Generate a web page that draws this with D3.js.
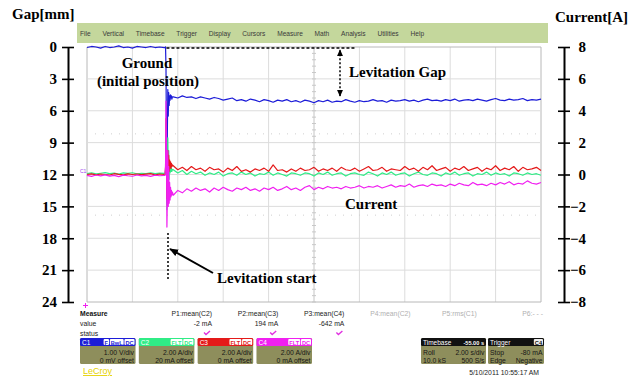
<!DOCTYPE html>
<html>
<head>
<meta charset="utf-8">
<script src="https://cdn.jsdelivr.net/npm/d3@7"></script>
<style>
body { margin: 0; background: #fff; }
svg { display: block; }
.serif { font-family: 'Liberation Serif', 'Times New Roman', serif; font-weight: bold; font-size: 15px; fill: #000; }
.scope { font-family: 'Liberation Sans', Arial, sans-serif; }
</style>
</head>
<body>
<div id="chart"></div>
<script>
var W = 643
var H = 376

// ====== axis ticks
var gapTicks = [0, 3, 6, 9, 12, 15, 18, 21, 24]
var currentTicks = [8, 6, 4, 2, 0, -2, -4, -6, -8]
var menuItems = ['File', 'Vertical', 'Timebase', 'Trigger', 'Display', 'Cursors', 'Measure', 'Math', 'Analysis', 'Utilities', 'Help']

// ====== traces (C1 = gap [mm], C2/C3/C4 = current [A]), sampled every 0.2 s
var sampleStep = 0.2
var preStart = 0
var postStart = 3.8

var preGap = [0.05, -0.05, 0.0, 0.1, -0.05, 0.05, 0.0, -0.1, 0.05, 0.0, 0.1, -0.05, 0.0, 0.05, -0.05, 0.05, 0.0, 0.05]
var preC2 = [0.06, 0.1, 0.04, 0.08, 0.12, 0.05, 0.09, 0.03, 0.1, 0.07, 0.11, 0.04, 0.08, 0.06, 0.1, 0.05, 0.09, 0.07]
var preC3 = [0.0, 0.04, -0.02, 0.03, 0.0, -0.03, 0.05, 0.01, -0.02, 0.04, 0.0, 0.03, -0.01, 0.02, 0.05, -0.02, 0.03, 0.0]
var preC4 = [-0.05, -0.12, -0.03, -0.09, -0.02, -0.1, -0.06, -0.13, -0.04, -0.08, -0.11, -0.03, -0.09, -0.05, -0.12, -0.04, -0.08, -0.06]

// the levitation start transient
var spikeTime = [3.44, 3.46, 3.48, 3.50, 3.52, 3.54, 3.56, 3.58, 3.60, 3.62, 3.64, 3.66, 3.68, 3.70, 3.72, 3.74, 3.76]
var spikeGap = [0.05, 0.0, 2.0, 9.0, 14.8, 8.0, 4.0, 6.5, 4.3, 5.5, 4.6, 5.0, 4.5, 4.8, 4.6, 4.9, 4.7]
var spikeC2 = [0.05, 0.3, 2.5, 1.0, -2.2, -0.5, 2.3, 0.5, 1.5, -0.3, 0.8, 0.1, 0.5, 0.2, 0.4, 0.2, 0.3]
var spikeC3 = [0.0, 0.5, 3.5, 1.5, -1.5, 0.2, 1.5, 0.3, 1.2, 0.2, 0.9, 0.4, 0.8, 0.4, 0.7, 0.5, 0.6]
var spikeC4 = [-0.05, 0.5, 4.6, 2.0, -3.3, -1.5, 1.5, -2.0, 0.5, -1.8, -0.5, -1.6, -0.8, -1.4, -1.0, -1.3, -1.1]

var postGap = [
	4.7, 4.8, 4.6, 4.75, 4.7, 4.85, 4.7, 4.8, 4.9, 4.75,
	4.85, 5.0, 4.9, 4.8, 5.05, 4.95, 5.1, 4.9, 5.0, 5.15,
	4.95, 5.05, 5.2, 5.0, 5.1, 4.95, 5.15, 5.05, 5.2, 5.0,
	5.1, 5.25, 5.05, 5.15, 5.0, 5.2, 5.1, 5.15, 4.95, 5.1,
	5.2, 5.05, 5.15, 5.1, 4.95, 5.1, 5.05, 5.2, 5.0, 5.1,
	5.05, 4.95, 5.1, 5.0, 5.15, 5.0, 4.9, 5.05, 5.0, 5.1,
	4.95, 5.05, 4.9, 5.1, 5.0, 4.95, 5.05, 4.9, 5.0, 5.1,
	4.95, 4.85, 5.0, 5.05, 4.9, 5.0, 4.95, 4.85, 5.05, 4.95,
	5.0, 4.9
]
var postC2 = [
	0.3, 0.1, 0.25, 0.0, 0.2, 0.05, 0.15, -0.05, 0.1, 0.0,
	0.15, -0.1, 0.05, 0.1, -0.05, 0.15, 0.0, 0.1, -0.1, 0.05,
	0.0, 0.15, -0.05, 0.1, 0.0, -0.1, 0.1, 0.05, -0.05, 0.1,
	0.05, -0.1, 0.1, 0.0, 0.15, -0.05, 0.05, 0.1, -0.1, 0.05,
	0.1, 0.0, -0.05, 0.15, 0.05, -0.1, 0.1, 0.0, 0.15, -0.05,
	0.05, 0.1, -0.1, 0.05, 0.15, 0.0, -0.05, 0.1, 0.05, -0.1,
	0.1, 0.0, 0.15, -0.05, 0.05, 0.1, -0.1, 0.05, 0.0, 0.15,
	-0.05, 0.1, 0.0, 0.05, -0.1, 0.1, 0.05, -0.05, 0.1, 0.0,
	0.05, -0.05
]
var postC3 = [
	0.55, 0.3, 0.45, 0.25, 0.5, 0.3, 0.4, 0.2, 0.45, 0.3,
	0.35, 0.15, 0.4, 0.25, 0.5, 0.2, 0.3, 0.15, 0.35, 0.25,
	0.4, 0.2, 0.6, 0.25, 0.3, 0.15, 0.35, 0.2, 0.4, 0.25,
	0.3, 0.45, 0.2, 0.35, 0.25, 0.4, 0.2, 0.45, 0.3, 0.25,
	0.4, 0.2, 0.35, 0.5, 0.25, 0.3, 0.45, 0.2, 0.35, 0.3,
	0.25, 0.5, 0.3, 0.4, 0.2, 0.45, 0.3, 0.55, 0.25, 0.35,
	0.45, 0.2, 0.4, 0.3, 0.5, 0.25, 0.35, 0.45, 0.2, 0.4,
	0.3, 0.55, 0.25, 0.4, 0.3, 0.5, 0.2, 0.45, 0.3, 0.35,
	0.45, 0.25
]
var postC4 = [
	-1.3, -1.0, -1.15, -0.9, -1.05, -0.85, -1.0, -0.9, -1.1, -0.85,
	-1.0, -0.8, -0.95, -1.05, -0.85, -0.95, -0.8, -1.0, -0.9, -1.05,
	-0.85, -0.95, -0.8, -1.0, -0.9, -0.75, -0.95, -0.85, -1.0, -0.8,
	-0.7, -0.95, -0.8, -0.9, -0.75, -0.85, -0.8, -0.9, -0.75, -0.85,
	-0.8, -0.7, -0.85, -0.75, -0.8, -0.7, -0.85, -0.75, -0.65, -0.8,
	-0.7, -0.75, -0.6, -0.8, -0.7, -0.65, -0.75, -0.6, -0.7, -0.65,
	-0.75, -0.6, -0.7, -0.55, -0.65, -0.7, -0.5, -0.65, -0.6, -0.7,
	-0.55, -0.65, -0.5, -0.6, -0.45, -0.65, -0.55, -0.6, -0.4, -0.55,
	-0.6, -0.5
]

// ====== scope status panel
var channelNames = ['C1', 'C2', 'C3', 'C4']
var channelColors = ['#1c1cd8', '#30ec86', '#e41a1a', '#f020f0']
var channelBadges = [['F', 'BwL', 'DC'], ['FLT', 'DC'], ['FLT', 'DC'], ['FLT', 'DC']]
var channelScale = ['1.00 V/div', '2.00 A/div', '2.00 A/div', '2.00 A/div']
var channelOffset = ['0 mV offset', '20 mA offset', '0 mA offset', '0 mA offset']
var measureLabels = ['P1:mean(C2)', 'P2:mean(C3)', 'P3:mean(C4)', 'P4:mean(C2)', 'P5:rms(C1)', 'P6:- - -']
var measureValues = ['-2 mA', '194 mA', '-642 mA', '', '', '']

var traceSeries = [
	{ name: 'C1', color: channelColors[0], axis: 'gap', pre: preGap, spike: spikeGap, post: postGap },
	{ name: 'C2', color: channelColors[1], axis: 'cur', pre: preC2, spike: spikeC2, post: postC2 },
	{ name: 'C3', color: channelColors[2], axis: 'cur', pre: preC3, spike: spikeC3, post: postC3 },
	{ name: 'C4', color: channelColors[3], axis: 'cur', pre: preC4, spike: spikeC4, post: postC4 }
]

var makePoints = function(s) {
	var pts = []
	s.pre.forEach(function(v, i) { pts.push({ t: preStart + i * sampleStep, v: v }) })
	s.spike.forEach(function(v, i) { pts.push({ t: spikeTime[i], v: v }) })
	s.post.forEach(function(v, i) { pts.push({ t: postStart + i * sampleStep, v: v }) })
	return pts
}

var plot = { left: 87, right: 541, top: 47, bottom: 302 }

var xScale = d3.scaleLinear().domain([0, 20]).range([plot.left, plot.right])
var gapY = d3.scaleLinear().domain([0, 24]).range([plot.top, plot.bottom])
var curY = d3.scaleLinear().domain([8, -8]).range([plot.top, plot.bottom])

var svg = d3.select('#chart').append('svg')
	.attr('width', W)
	.attr('height', H)

var defs = svg.append('defs')
defs.append('marker')
	.attr('id', 'head-small')
	.attr('markerUnits', 'userSpaceOnUse')
	.attr('viewBox', '0 0 8 8')
	.attr('refX', 7).attr('refY', 4)
	.attr('markerWidth', 7).attr('markerHeight', 7)
	.attr('orient', 'auto-start-reverse')
	.append('path').attr('d', 'M0,0.5L8,4L0,7.5Z').attr('fill', '#000')
defs.append('marker')
	.attr('id', 'head-big')
	.attr('markerUnits', 'userSpaceOnUse')
	.attr('viewBox', '0 0 10 10')
	.attr('refX', 9).attr('refY', 5)
	.attr('markerWidth', 9).attr('markerHeight', 9)
	.attr('orient', 'auto')
	.append('path').attr('d', 'M0,1L10,5L0,9Z').attr('fill', '#000')

// ====== menu bar
svg.append('rect')
	.attr('x', 77).attr('y', 23)
	.attr('width', 471).attr('height', 20)
	.attr('fill', '#c4d79c')

var menuX = 80
menuItems.forEach(function(m) {
	var t = svg.append('text')
		.attr('class', 'scope')
		.attr('x', menuX).attr('y', 35.5)
		.attr('font-size', 6.6)
		.attr('fill', '#3a3a3a')
		.text(m)
	menuX += t.node().getComputedTextLength() + 11.8
})

// ====== graticule
var grid = svg.append('g')

grid.selectAll('.vgrid')
	.data(d3.range(0, 21, 2))
	.enter().append('line')
	.attr('x1', function(d) { return xScale(d) })
	.attr('x2', function(d) { return xScale(d) })
	.attr('y1', plot.top).attr('y2', plot.bottom)
	.attr('stroke', function(d) { return (d == 0 || d == 20) ? '#b8b8b8' : (d == 10 ? '#c4c4c4' : '#dcdcdc') })
	.attr('stroke-width', 1)

grid.selectAll('.hgrid')
	.data(currentTicks)
	.enter().append('line')
	.attr('x1', plot.left).attr('x2', plot.right)
	.attr('y1', function(d) { return curY(d) })
	.attr('y2', function(d) { return curY(d) })
	.attr('stroke', function(d) { return (d == 8 || d == -8) ? '#b8b8b8' : '#dcdcdc' })
	.attr('stroke-width', 1)

// centre-line minor ticks
grid.selectAll('.vtick')
	.data(d3.range(-8, 8.01, 0.4))
	.enter().append('line')
	.attr('x1', xScale(10) - 2).attr('x2', xScale(10) + 2)
	.attr('y1', function(d) { return curY(d) })
	.attr('y2', function(d) { return curY(d) })
	.attr('stroke', '#c8c8c8')

// faint dotted cursor lines
grid.selectAll('.cursor')
	.data([2.55, -2.55])
	.enter().append('line')
	.attr('x1', plot.left + 8).attr('x2', plot.right)
	.attr('y1', function(d) { return curY(d) })
	.attr('y2', function(d) { return curY(d) })
	.attr('stroke', '#cfcfcf')
	.attr('stroke-dasharray', '1,7')

// ====== traces
traceSeries.forEach(function(s) {
	var yS = s.axis == 'gap' ? gapY : curY
	var line = d3.line()
		.x(function(d) { return xScale(d.t) })
		.y(function(d) { return yS(d.v) })
	svg.append('path')
		.datum(makePoints(s))
		.attr('d', line)
		.attr('fill', 'none')
		.attr('stroke', s.color)
		.attr('stroke-width', 1.2)
		.attr('stroke-linejoin', 'round')
})

// channel ground marker & bottom marker
svg.append('text')
	.attr('class', 'scope')
	.attr('x', 80).attr('y', curY(0) - 2)
	.attr('font-size', 5)
	.attr('fill', '#a040f0')
	.text('C1')
svg.append('path')
	.attr('d', 'M83,305.5h5M85.5,303v5')
	.attr('stroke', '#f020f0')
	.attr('stroke-width', 1)

// ====== axes
var axisLeft = d3.axisLeft(gapY)
	.tickValues(gapTicks)
	.tickSize(0)
	.tickPadding(11)

var gLeft = svg.append('g')
	.attr('transform', 'translate(68,0)')
	.call(axisLeft)

var axisRight = d3.axisRight(curY)
	.tickValues(currentTicks)
	.tickSize(0)
	.tickPadding(10)

var gRight = svg.append('g')
	.attr('transform', 'translate(564,0)')
	.call(axisRight)

;[gLeft, gRight].forEach(function(g) {
	g.select('.domain').attr('stroke', '#000').attr('stroke-width', 2)
	g.selectAll('.tick').append('line')
		.attr('x1', -6).attr('x2', 6)
		.attr('stroke', '#000').attr('stroke-width', 1.6)
	g.selectAll('.tick text')
		.attr('class', 'serif')
		.attr('font-size', null)
		.attr('font-family', null)
})
gRight.selectAll('.tick text')
	.attr('text-anchor', 'end')
	.attr('x', 22)

svg.append('text').attr('class', 'serif')
	.attr('x', 12).attr('y', 19)
	.text('Gap[mm]')

svg.append('text').attr('class', 'serif')
	.attr('x', 555).attr('y', 22)
	.text('Current[A]')

// ====== annotations
svg.append('text').attr('class', 'serif')
	.attr('x', 147).attr('y', 68)
	.attr('text-anchor', 'middle')
	.text('Ground')
svg.append('text').attr('class', 'serif')
	.attr('x', 148).attr('y', 86)
	.attr('text-anchor', 'middle')
	.text('(initial position)')

svg.append('line')
	.attr('x1', xScale(3.5)).attr('x2', xScale(11.8))
	.attr('y1', gapY(0.1)).attr('y2', gapY(0.1))
	.attr('stroke', '#000').attr('stroke-width', 1.5)
	.attr('stroke-dasharray', '3,2')

svg.append('line')
	.attr('x1', 340).attr('x2', 340)
	.attr('y1', gapY(0.3)).attr('y2', gapY(4.6))
	.attr('stroke', '#000').attr('stroke-width', 1.5)
	.attr('stroke-dasharray', '2,2')
	.attr('marker-start', 'url(#head-small)')
	.attr('marker-end', 'url(#head-small)')

svg.append('text').attr('class', 'serif')
	.attr('x', 349).attr('y', 77)
	.text('Levitation Gap')

svg.append('text').attr('class', 'serif')
	.attr('x', 345).attr('y', 209)
	.text('Current')

svg.append('line')
	.attr('x1', 168).attr('x2', 168)
	.attr('y1', 233).attr('y2', 281)
	.attr('stroke', '#000').attr('stroke-width', 1.5)
	.attr('stroke-dasharray', '2,2')

svg.append('line')
	.attr('x1', 213).attr('y1', 273)
	.attr('x2', 170).attr('y2', 249)
	.attr('stroke', '#000').attr('stroke-width', 2)
	.attr('marker-end', 'url(#head-big)')

svg.append('text').attr('class', 'serif')
	.attr('x', 217).attr('y', 283)
	.text('Levitation start')

// ====== measure rows
var panel = svg.append('g').attr('class', 'scope').attr('font-size', 6.8)

panel.append('text').attr('x', 80).attr('y', 316).attr('font-weight', 'bold').attr('fill', '#111').text('Measure')
panel.append('text').attr('x', 80).attr('y', 326).attr('fill', '#222').text('value')
panel.append('text').attr('x', 80).attr('y', 336).attr('fill', '#222').text('status')

measureLabels.forEach(function(m, i) {
	var xr = 212 + i * 66.2
	var active = measureValues[i] != ''
	panel.append('text')
		.attr('x', xr).attr('y', 316)
		.attr('text-anchor', 'end')
		.attr('fill', active ? '#222' : '#b0b0b0')
		.text(m)
	if (active) {
		panel.append('text')
			.attr('x', xr).attr('y', 326)
			.attr('text-anchor', 'end')
			.attr('fill', '#222')
			.text(measureValues[i])
		panel.append('path')
			.attr('d', 'M' + (xr - 8) + ',332.5l2,2l4,-3.5')
			.attr('fill', 'none')
			.attr('stroke', '#e030e0')
			.attr('stroke-width', 1.4)
	}
})

// ====== channel boxes
var boxX = d3.scaleBand()
	.domain(channelNames)
	.range([80, 312])
	.paddingInner(0.056)

var olive = '#8e8e5c'

var drawBox = function(x, w, headColor, title, badges, leftLines, rightLines) {
	var g = svg.append('g').attr('class', 'scope')
	g.append('rect').attr('x', x).attr('y', 338).attr('width', w).attr('height', 26)
		.attr('rx', 1.5).attr('fill', olive)
	g.append('rect').attr('x', x).attr('y', 338).attr('width', w).attr('height', 8)
		.attr('rx', 1.5).attr('fill', headColor)
	g.append('text').attr('x', x + 2).attr('y', 344.6)
		.attr('font-size', 6.5).attr('fill', '#fff').text(title)
	var bx = x + w - 1
	badges.slice().reverse().forEach(function(b) {
		var t = g.append('text').attr('y', 344.5)
			.attr('font-size', 5.6).attr('font-weight', 'bold')
			.attr('fill', b.fg).text(b.text)
		var tw = t.node().getComputedTextLength()
		bx -= tw + 2
		g.insert('rect', 'text:last-of-type')
			.attr('x', bx).attr('y', 339).attr('width', tw + 2).attr('height', 6)
			.attr('rx', 1).attr('fill', b.bg)
		t.attr('x', bx + 1)
		bx -= 0.8
	})
	leftLines.forEach(function(l, i) {
		g.append('text').attr('x', x + 2).attr('y', 354.5 + i * 8)
			.attr('font-size', 6.8).attr('fill', '#161616').text(l)
	})
	rightLines.forEach(function(l, i) {
		g.append('text').attr('x', x + w - 1.5).attr('y', 354.5 + i * 8)
			.attr('text-anchor', 'end')
			.attr('font-size', 6.8).attr('fill', '#161616').text(l)
	})
}

channelNames.forEach(function(c, i) {
	var badges = channelBadges[i].map(function(b) {
		return { text: b, bg: '#fff', fg: channelColors[i] }
	})
	drawBox(boxX(c), boxX.bandwidth(), channelColors[i], c, badges, [], [channelScale[i], channelOffset[i]])
})

drawBox(421, 65, '#111', 'Timebase', [{ text: '-55.00 s', bg: '#111', fg: '#fff' }], ['Roll', '10.0 kS'], ['2.00 s/div', '500 S/s'])
drawBox(488, 56, '#111', 'Trigger', [{ text: 'C4', bg: '#eee', fg: '#111' }], ['Stop', 'Edge'], ['-80 mA', 'Negative'])

svg.append('text').attr('class', 'scope')
	.attr('x', 83).attr('y', 374)
	.attr('font-size', 9)
	.attr('fill', '#e6d200')
	.attr('text-decoration', 'underline')
	.text('LeCroy')

svg.append('text').attr('class', 'scope')
	.attr('x', 539).attr('y', 374.5)
	.attr('text-anchor', 'end')
	.attr('font-size', 6.8)
	.attr('fill', '#222')
	.text('5/10/2011 10:55:17 AM')
</script>
</body>
</html>
